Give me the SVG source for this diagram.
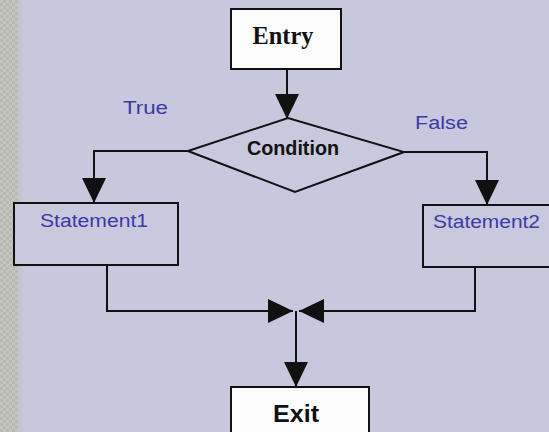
<svg xmlns="http://www.w3.org/2000/svg" width="549" height="432" viewBox="0 0 549 432">
  <style>
    .box { stroke: #111; stroke-width: 2; }
    .term { fill: #fcfcfc; }
    .stmt { fill: #c9c9de; }
    .wire { fill: none; stroke: #111; stroke-width: 2; }
    .lbl { font-family: "Liberation Sans", Arial, sans-serif; fill: #3b3aa6; font-size: 18px; }
    .dark { font-family: "Liberation Sans", Arial, sans-serif; fill: #111; font-weight: bold; }
  </style>
  <defs>
    <marker id="head" viewBox="0 0 25 24" refX="25" refY="12" markerWidth="25" markerHeight="24" markerUnits="userSpaceOnUse" orient="auto">
      <path d="M0,0 L25,12 L0,24 Z" fill="#111"/>
    </marker>
    <pattern id="grain" width="6" height="6" patternUnits="userSpaceOnUse">
      <rect width="6" height="6" fill="#b6b9b0"/>
      <rect width="3" height="3" fill="#c4c6bf"/>
      <rect x="3" y="3" width="3" height="3" fill="#c4c6bf"/>
    </pattern>
  </defs>

  <!-- page -->
  <rect width="549" height="432" fill="#c7c7dd"/>
  <rect width="18" height="432" fill="url(#grain)"/>
  <rect x="18" width="4" height="432" fill="#c4c5cf"/>

  <!-- connectors -->
  <g id="connectors">
    <path class="wire" d="M287,69 L287,119" marker-end="url(#head)"/>
    <path class="wire" d="M188,151 L94,151 L94,203" marker-end="url(#head)"/>
    <path class="wire" d="M404,152 L487,152 L487,205" marker-end="url(#head)"/>
    <path class="wire" d="M107,265 L107,311 L293,311" marker-end="url(#head)"/>
    <path class="wire" d="M475,267 L475,311 L299,311" marker-end="url(#head)"/>
    <path class="wire" d="M296,311 L296,387" marker-end="url(#head)"/>
  </g>

  <!-- branch labels -->
  <g id="labels">
    <text class="lbl" x="123" y="114" textLength="45" lengthAdjust="spacingAndGlyphs">True</text>
    <text class="lbl" x="415" y="129" textLength="53" lengthAdjust="spacingAndGlyphs">False</text>
  </g>

  <g id="entry">
    <rect class="box term" x="231" y="9" width="110" height="60"/>
    <text x="283" y="44" text-anchor="middle" font-family="'Liberation Serif', 'Times New Roman', serif" font-weight="bold" font-size="25" fill="#111" textLength="61" lengthAdjust="spacingAndGlyphs">Entry</text>
  </g>

  <g id="condition">
    <polygon class="box stmt" points="188,151 288,118 404,152 295,192"/>
    <text class="dark" x="293" y="155" text-anchor="middle" font-size="20" textLength="92" lengthAdjust="spacingAndGlyphs">Condition</text>
  </g>

  <g id="statement1">
    <rect class="box stmt" x="14" y="203" width="164" height="62"/>
    <text class="lbl" x="40" y="227" textLength="108" lengthAdjust="spacingAndGlyphs">Statement1</text>
  </g>

  <g id="statement2">
    <rect class="box stmt" x="423" y="205" width="130" height="62"/>
    <text class="lbl" x="433" y="228" textLength="107" lengthAdjust="spacingAndGlyphs">Statement2</text>
  </g>

  <g id="exit">
    <rect class="box term" x="231" y="387" width="138" height="56"/>
    <text class="dark" x="296" y="422" text-anchor="middle" font-size="24" textLength="46" lengthAdjust="spacingAndGlyphs">Exit</text>
  </g>
</svg>
